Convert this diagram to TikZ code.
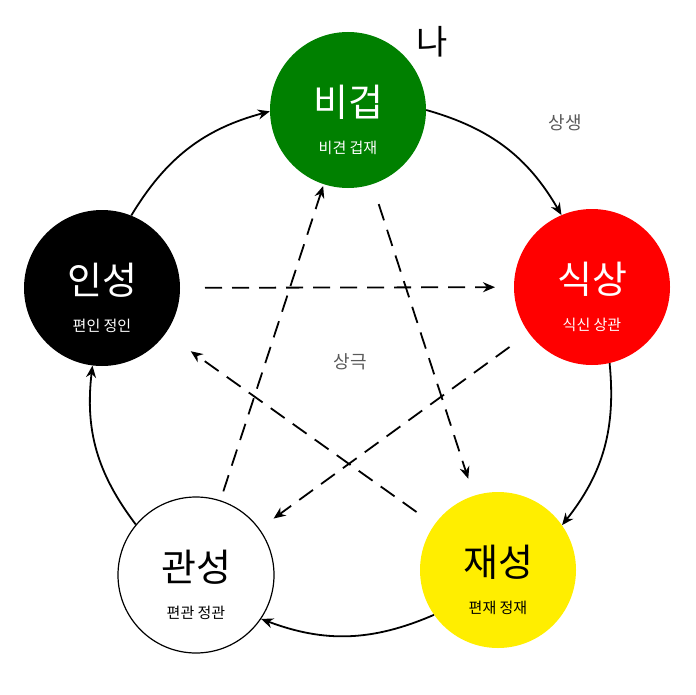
\documentclass[tikz,border=0pt]{standalone}
\usepackage{fontspec}
\setmainfont{Noto Sans CJK KR}
\usetikzlibrary{calc,arrows.meta}
\definecolor{gr}{RGB}{0,128,0}
\definecolor{rd}{RGB}{255,0,0}
\definecolor{yl}{RGB}{255,238,0}
\begin{document}
\begin{tikzpicture}[x=1pt,y=-1pt,
 el/.style={circle,minimum size=156pt,inner sep=0pt,align=center},
 big/.style={font=\fontsize{38}{40}\selectfont},
 sml/.style={font=\fontsize{15}{17}\selectfont},
 sg/.style={-{Stealth[length=12pt,width=10pt]},line width=1.8pt,bend left=22},
 dsh/.style={-{Stealth[length=12pt,width=10pt]},line width=1.8pt,dash pattern=on 17pt off 10pt}]
\useasboundingbox (0,0) rectangle (695,695);
\node[el,fill=gr,text=white] (bi) at (348,110) {};
\node[el,fill=rd,text=white] (si) at (592,287) {};
\node[el,fill=yl,text=black] (jae) at (498,570) {};
\node[el,draw=black,line width=1.2pt,fill=white] (gw) at (196,575) {};
\node[el,fill=black] (in) at (102,288) {};
\foreach \n/\a/\b/\c in {bi/비겁/비견   겁재/white, si/식상/식신   상관/white, jae/재성/편재 정재/black, gw/관성/편관   정관/black, in/인성/편인 정인/white}{
 \node[big,text=\c] (\n t) at ($(\n)+(0,-8)$) {\a};
 \node[sml,text=\c] (\n s) at ($(\n)+(0,38)$) {\b};
}
\node[font=\fontsize{34}{36}\selectfont] (na) at (432,42) {나};
\node[font=\fontsize{18}{20}\selectfont,text=black!65] (ss) at (565,123) {상생};
\node[font=\fontsize{18}{20}\selectfont,text=black!65] (sk) at (350,362) {상극};
\draw[sg] (in.68) to (bi.181);
\draw[sg] (bi.0) to (si.113);
\draw[sg] (si.-77) to (jae.35);
\draw[sg] (jae.215) to (gw.-34);
\draw[sg] (gw.140) to (in.263);
\draw[dsh] ($(in)!103pt!(si)$) -- ($(si)!97pt!(in)$);
\draw[dsh] ($(si)!102pt!(gw)$) -- ($(gw)!96pt!(si)$);
\draw[dsh] ($(gw)!88pt!(bi)$) -- ($(bi)!80pt!(gw)$);
\draw[dsh] ($(bi)!99pt!(jae)$) -- ($(jae)!96pt!(bi)$);
\draw[dsh] ($(jae)!100pt!(in)$) -- ($(in)!109pt!(jae)$);
\end{tikzpicture}
\end{document}
